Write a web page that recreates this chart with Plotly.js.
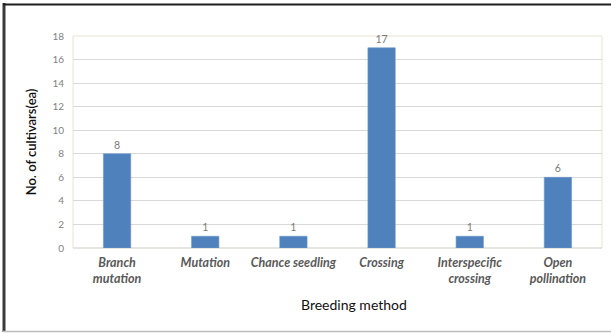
<!DOCTYPE html>
<html>
<head>
<meta charset="utf-8">
<script src="https://cdn.plot.ly/plotly-3.0.1.min.js"></script>
<style>
  html, body { margin: 0; padding: 0; background: #ffffff; }
  #chart { width: 611px; height: 333px; }
</style>
</head>
<body>
<div id="chart"></div>
<script>
// Breeding methods and the number of cultivars obtained by each
const methods = [
  "Branch<br>mutation",
  "Mutation",
  "Chance seedling",
  "Crossing",
  "Interspecific<br>crossing",
  "Open<br>pollination"
];
const cultivarCounts = [8, 1, 1, 17, 1, 6];
const yTicks = [0, 2, 4, 6, 8, 10, 12, 14, 16, 18];

const barTrace = {
  type: "bar",
  x: methods,
  y: cultivarCounts,
  marker: { color: "#4f81bd", line: { color: "#6f97c9", width: 0.6 } },
  text: cultivarCounts.map(String),
  textposition: "outside",
  cliponaxis: false,
  textfont: { family: "Lato, 'Liberation Sans', sans-serif", size: 10.5, color: "#7a7a7a" },
  hoverinfo: "x+y"
};

// paper coordinates of the outer frame lines around the figure
const plotLeft = 73, plotRight = 602, plotTop = 36, plotBottom = 248;
const px = v => (v - plotLeft) / (plotRight - plotLeft);
const py = v => (plotBottom - v) / (plotBottom - plotTop);

const layout = {
  width: 611,
  height: 333,
  margin: { l: plotLeft, r: 611 - plotRight, t: plotTop, b: 333 - plotBottom, pad: 0 },
  paper_bgcolor: "#ffffff",
  plot_bgcolor: "#ffffff",
  showlegend: false,
  bargap: 0.69,
  font: { family: "Lato, 'Liberation Sans', sans-serif", color: "#595959" },
  xaxis: {
    type: "category",
    showgrid: false,
    showline: false,
    zeroline: false,
    ticks: "",
    tickfont: { family: "Lato, 'Liberation Sans', sans-serif", size: 12.5, color: "#595959", weight: "bold", style: "italic" },
    ticklabelstandoff: 5,
    fixedrange: true
  },
  yaxis: {
    range: [0, 18],
    tickvals: yTicks,
    ticktext: yTicks.map(String),
    showgrid: true,
    gridcolor: "#d9d9d9",
    gridwidth: 1,
    zeroline: false,
    showline: false,
    ticks: "",
    tickfont: { family: "Lato, 'Liberation Sans', sans-serif", size: 10, color: "#7f7f7f" },
    ticklabelstandoff: 8,
    title: {
      text: "No. of cultivars(ea)",
      font: { family: "Lato, 'Liberation Sans', sans-serif", size: 13, color: "#111111", weight: 600 },
      standoff: 12
    },
    fixedrange: true
  },
  annotations: [
    {
      text: "Breeding method",
      xref: "paper", yref: "paper",
      x: px(354), y: py(304),
      xanchor: "center", yanchor: "middle",
      showarrow: false,
      font: { family: "Lato, 'Liberation Sans', sans-serif", size: 14, color: "#111111" }
    }
  ],
  shapes: [
    // plot area border
    { type: "rect", xref: "paper", yref: "paper", x0: 0, x1: 1, y0: 0, y1: 1,
      line: { color: "#e9e3d3", width: 1 }, layer: "below" },
    // axis base line
    { type: "line", xref: "paper", yref: "paper", x0: 0, x1: 1, y0: 0, y1: 0,
      line: { color: "#d9d9d9", width: 1 }, layer: "below" },
    // outer frame: left, top, bottom
    { type: "line", xref: "paper", yref: "paper", x0: px(4), x1: px(4), y0: py(3), y1: py(332),
      line: { color: "#3a3a3a", width: 3 } },
    { type: "line", xref: "paper", yref: "paper", x0: px(3), x1: px(611), y0: py(4.5), y1: py(4.5),
      line: { color: "#1e1e1e", width: 2 } },
    { type: "line", xref: "paper", yref: "paper", x0: px(3), x1: px(611), y0: py(331.5), y1: py(331.5),
      line: { color: "#bdbdbd", width: 1.5 } }
  ]
};

Plotly.newPlot("chart", [barTrace], layout, { displayModeBar: false, staticPlot: true });
</script>
</body>
</html>
